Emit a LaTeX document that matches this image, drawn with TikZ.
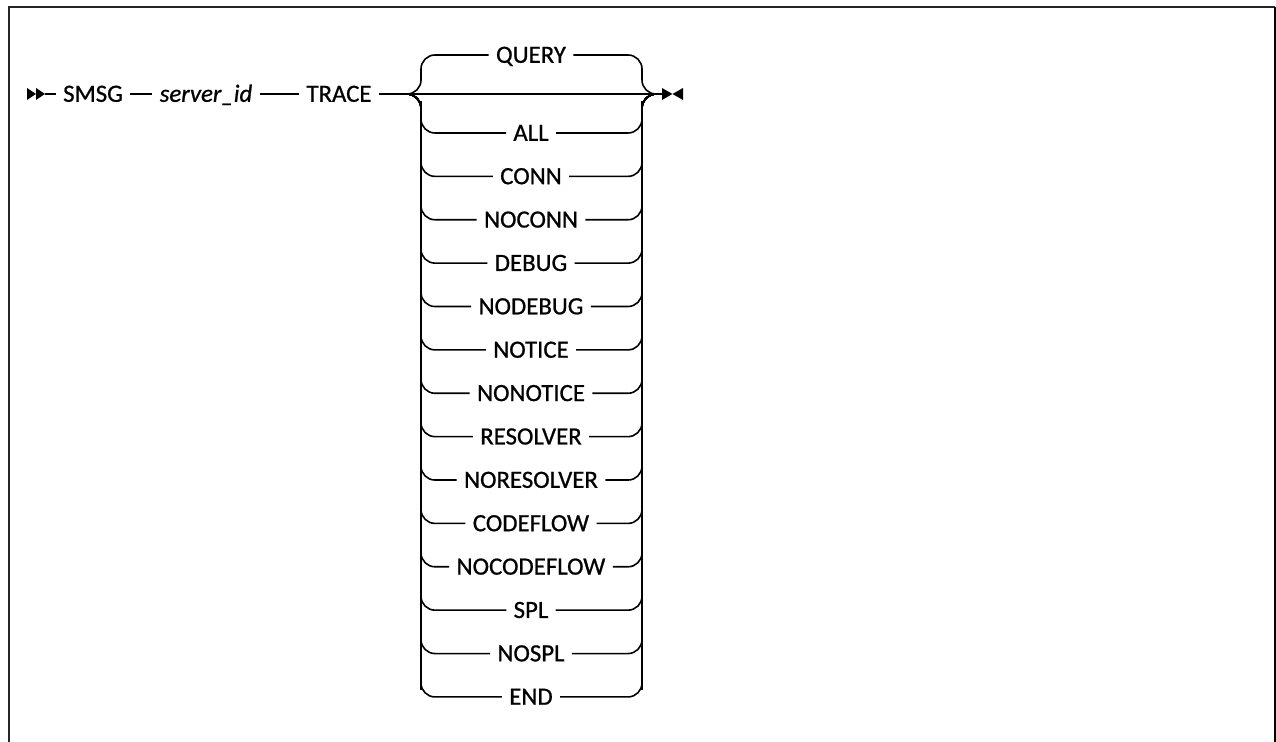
\documentclass[tikz,border=0pt]{standalone}
\usepackage{fontspec}
\setmainfont{Carlito}[FakeBold=0.8]
\begin{document}
\begin{tikzpicture}[x=0.5pt,y=-0.5pt,
  kw/.style={font=\fontsize{12.4pt}{14pt}\selectfont, inner xsep=3.5pt, inner ysep=0pt, text height=7.8pt, text depth=0pt},
  ln/.style={line width=0.8pt},
  vln/.style={line width=1.1pt},
  tip/.style={fill=black, draw=none}]
\useasboundingbox (0,0) rectangle (1276,742);
% frame
\draw[line width=1.3pt, black!85] (9,742) -- (9,7) -- (1275,7);
\draw[line width=0.8pt] (1275,7) -- (1275,742);
% main line
\coordinate (start) at (45,94);
\coordinate (lj) at (413,94);
\coordinate (rj) at (650,94);
\coordinate (stop) at (662,94);
\node[kw] (smsg) at (93,94) {SMSG};
\node[kw] (sid) at (206,94) {\itshape server\_id};
\node[kw] (trace) at (339,94) {TRACE};
\fill[tip] (27,88) -- (36,94) -- (27,100) -- cycle;
\fill[tip] (36,88) -- (45,94) -- (36,100) -- cycle;
\draw[ln] (start) -- (smsg.west);
\draw[ln] (smsg.east) -- (sid.west);
\draw[ln] (sid.east) -- (trace.west);
\draw[ln] (trace.east) -- (lj);
\draw[ln] (lj) -- (rj) -- (stop);
\fill[tip] (662,88) -- (672.5,94) -- (662,100) -- cycle;
\fill[tip] (683,88) -- (672.5,94) -- (683,100) -- cycle;
% default (above)
\node[kw] (query) at (531,55) {QUERY};
\draw[ln, rounded corners=7] (lj) -- (421,94) -- (421,55) -- (query.west);
\draw[ln, rounded corners=7] (query.east) -- (642,55) -- (642,94) -- (rj);
% choices below
\foreach \lab [count=\i] in {ALL,CONN,NOCONN,DEBUG,NODEBUG,NOTICE,NONOTICE,RESOLVER,NORESOLVER,CODEFLOW,NOCODEFLOW,SPL,NOSPL,END}{
  \pgfmathsetmacro{\yy}{133+43.38*(\i-1)}
  \node[kw] (r\i) at (531,\yy) {\lab};
  \draw[ln, rounded corners=7] (lj) -- (421,94) -- (421,\yy) -- (r\i.west);
  \draw[ln, rounded corners=7] (r\i.east) -- (642,\yy) -- (642,94) -- (rj);
}
\draw[vln] (421,101) -- (421,690);
\draw[vln] (642,101) -- (642,690);
\end{tikzpicture}
\end{document}
